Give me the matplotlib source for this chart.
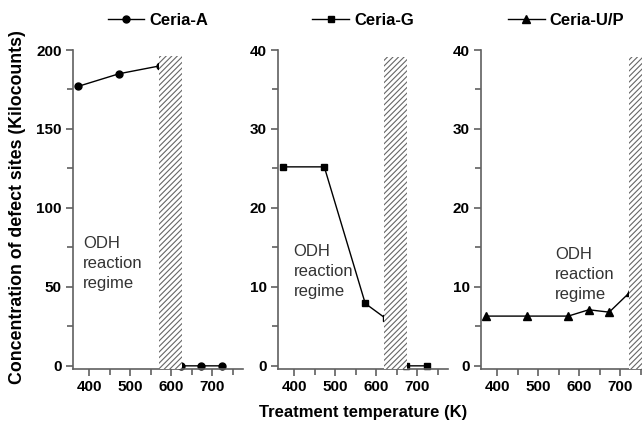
import matplotlib
matplotlib.use("Agg")
import matplotlib.pyplot as plt
from matplotlib.ticker import MultipleLocator

plt.rcParams['font.family'] = ['Liberation Sans', 'DejaVu Sans']
plt.rcParams['hatch.linewidth'] = 0.8

# data
temps = [373, 473, 573, 623, 673, 723]
ceria_a = [177, 185, 190, 0, 0, 0]
ceria_g = [25.2, 25.2, 7.9, 6.0, 0, 0]
ceria_up = [6.3, 6.3, 6.3, 7.1, 6.8, 9.3]

names = ["Ceria-A", "Ceria-G", "Ceria-U/P"]
markers = ["o", "s", "^"]
hatch_spans = [(569, 627), (619, 676), (721, 780)]
ylims = [(-2, 200), (-0.4, 40), (-0.4, 40)]
hatch_tops = [196, 39.1, 39.1]
text_pos = [(385, 82), (398, 15.4), (541, 15.0)]
majors = [50, 10, 10]
minors = [25, 5, 5]

fig = plt.figure(figsize=(6.42, 4.22), dpi=100)
lefts = [73 / 642, 278 / 642, 481 / 642]
W, B, H = 170 / 642, 53 / 422, 319 / 422
gray = "#606060"

series = [ceria_a, ceria_g, ceria_up]
for i in range(3):
    ax = fig.add_axes([lefts[i], B, W, H])
    ax.plot(temps, series[i], color="black", lw=1.0, marker=markers[i],
            ms=5 if i != 2 else 5.5, mfc="black", mec="black", label=names[i],
            zorder=2, clip_on=False)
    x0, x1 = hatch_spans[i]
    ax.fill_between([x0, x1], ylims[i][0], hatch_tops[i], facecolor="white",
                    edgecolor="#666666", hatch="//////", lw=0, zorder=3)
    ax.set_xlim(360, 775)
    ax.set_ylim(*ylims[i])
    ax.xaxis.set_major_locator(MultipleLocator(100))
    ax.xaxis.set_minor_locator(MultipleLocator(50))
    ax.yaxis.set_major_locator(MultipleLocator(majors[i]))
    ax.yaxis.set_minor_locator(MultipleLocator(minors[i]))
    for s in ["top", "right"]:
        ax.spines[s].set_visible(False)
    for s in ["left", "bottom"]:
        ax.spines[s].set_color(gray)
        ax.spines[s].set_linewidth(1.2)
    ax.tick_params(which="major", direction="out", length=5, width=1.2,
                   color=gray, labelsize=11, pad=3)
    ax.tick_params(which="minor", direction="out", length=4, width=1.2, color=gray)
    for lab in ax.get_xticklabels() + ax.get_yticklabels():
        lab.set_fontweight("bold")
    ax.text(text_pos[i][0], text_pos[i][1], "ODH\nreaction\nregime",
            fontsize=12, color="#333333", va="top", ha="left", linespacing=1.4)
    ax.legend(loc="center", bbox_to_anchor=(0.5, 1.094), frameon=False,
              handlelength=2.2, handletextpad=0.3, borderaxespad=0,
              prop={"weight": "bold", "size": 12})

fig.text(18 / 642, 1 - 207 / 422, "Concentration of defect sites (Kilocounts)",
         rotation=90, ha="center", va="center", fontsize=12.8, fontweight="bold")
fig.text(363 / 642, 10 / 422, "Treatment temperature (K)", ha="center", va="center",
         fontsize=12, fontweight="bold")

fig.savefig("out.png", dpi=100)
